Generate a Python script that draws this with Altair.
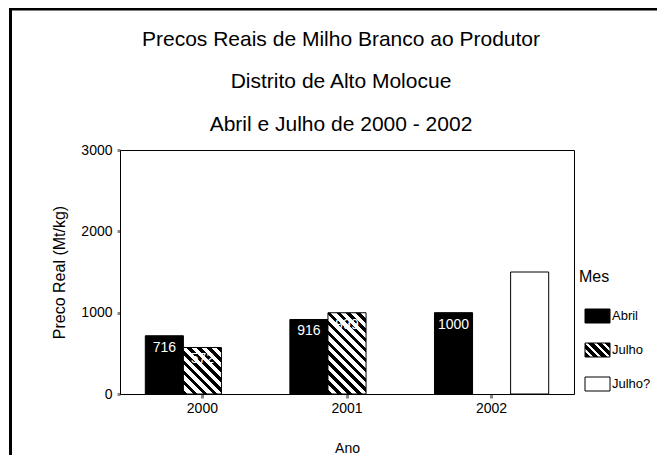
import math
import altair as alt
import pandas as pd

# ---- data ----
anos = ["2000", "2001", "2002"]
meses = ["Abril", "Julho", "Julho?"]
abril = [716, 916, 1000]
julho = [572, 999, None]
julho_q = [None, None, 1500]

titulo = ["Precos Reais de Milho Branco ao Produtor",
          "Distrito de Alto Molocue",
          "Abril e Julho de 2000 - 2002"]

rows = []
for i, ano in enumerate(anos):
    for mes, serie in zip(meses, [abril, julho, julho_q]):
        v = serie[i]
        if v is not None:
            rows.append({"Ano": ano, "Mes": mes, "Valor": v})
df = pd.DataFrame(rows)

# ---- layout ----
W, H = 454, 244
YMAX = 3000
P_IN, P_OUT = 0.21, 0.175
step = W / (len(anos) - P_IN + 2 * P_OUT)
sub_w = step * (1 - P_IN) / len(meses)


def hatch(w, h, period=7.0, black_frac=0.45):
    t = (w + h) / (w * w + h * h)
    x2 = t * w
    y2 = 1 - t * h
    L = (w + h) / math.sqrt(2)
    n = L / period
    stops = []
    k = 0
    while k < n:
        a = k / n
        b = min((k + black_frac) / n, 1)
        c = min((k + 1) / n, 1)
        stops += [{"offset": a, "color": "black"}, {"offset": b, "color": "black"},
                  {"offset": b, "color": "white"}, {"offset": c, "color": "white"}]
        k += 1
    return {"gradient": "linear", "x1": 0, "y1": 1, "x2": x2, "y2": y2, "stops": stops}


conds = [{"test": "datum.Mes === 'Abril'", "value": "black"}]
for ano, v in zip(anos, julho):
    if v is not None:
        conds.append({"test": f"datum.Mes === 'Julho' && datum.Ano === '{ano}'",
                      "value": hatch(sub_w, v * H / YMAX)})

FONT = "Liberation Sans"

x_enc = alt.X("Ano:N", sort=anos,
              scale=alt.Scale(paddingInner=P_IN, paddingOuter=P_OUT),
              axis=alt.Axis(title="Ano", labelAngle=0, tickSize=4, tickWidth=3,
                            labelPadding=3, labelFontSize=14, titleFontSize=14,
                            titleFontWeight="normal", titlePadding=26))
xoff = alt.XOffset("Mes:N", sort=meses,
                   scale=alt.Scale(domain=meses, paddingInner=0, paddingOuter=0))
yscale = alt.Scale(domain=[0, YMAX], nice=False)

bars = alt.Chart(df).mark_bar(stroke="black", strokeWidth=1).encode(
    x=x_enc,
    xOffset=xoff,
    y=alt.Y("Valor:Q", scale=yscale,
            axis=alt.Axis(values=[0, 1000, 2000, 3000], format="d",
                          title="Preco Real (Mt/kg)",
                          grid=False, tickSize=3, tickWidth=3, labelPadding=5,
                          labelFontSize=14, titleFontSize=16,
                          titleFontWeight="normal", titlePadding=13)),
    fill=alt.value("white", condition=conds),
)

labels = alt.Chart(df).mark_text(color="white", baseline="top", dy=5, fontSize=14,
                                 font=FONT).encode(
    x=x_enc, xOffset=xoff,
    y=alt.Y("Valor:Q", scale=yscale, axis=None),
    text=alt.Text("Valor:Q", format="d"),
)

# ---- custom legend ----
leg_df = pd.DataFrame({"Mes": meses})
leg_conds = [{"test": "datum.Mes === 'Abril'", "value": "black"},
             {"test": "datum.Mes === 'Julho'", "value": hatch(25, 14, period=6, black_frac=0.6)}]
leg_y = alt.Y("Mes:N", sort=meses,
              scale=alt.Scale(type="point", domain=meses, range=[166, 234], padding=0),
              axis=None)
leg_sym = alt.Chart(leg_df).mark_point(
    shape="M-1,-0.56L1,-0.56L1,0.56L-1,0.56Z", size=625, filled=True,
    stroke="black", strokeWidth=1, opacity=1).encode(
    x=alt.value(477.5), y=leg_y, fill=alt.value("white", condition=leg_conds))
leg_txt = alt.Chart(leg_df).mark_text(align="left", baseline="middle", fontSize=13,
                                      font=FONT).encode(
    x=alt.value(492), y=leg_y, text="Mes:N")
leg_title = alt.Chart(pd.DataFrame({"t": ["Mes"]})).mark_text(
    align="left", baseline="middle", fontSize=16, font=FONT).encode(
    x=alt.value(459), y=alt.value(127), text="t:N")

# ---- title lines ----
title_layers = []
for line, yy in zip(titulo, [-110, -68, -25]):
    title_layers.append(
        alt.Chart(pd.DataFrame({"t": [line]})).mark_text(
            align="center", baseline="middle", fontSize=21, font=FONT,
            color="black").encode(x=alt.value(221), y=alt.value(yy), text="t:N"))

# outer frame (right/bottom sides fall outside the picture, as in the reference)
frame = alt.Chart(pd.DataFrame({"f": [0]})).mark_rect(
    fillOpacity=0, stroke="black", strokeWidth=3).encode(
    x=alt.value(-109.5), x2=alt.value(700), y=alt.value(-141), y2=alt.value(500))

# crisp plot-area box
box = alt.Chart(pd.DataFrame({"f": [0]})).mark_rect(
    fillOpacity=0, stroke="black", strokeWidth=1).encode(
    x=alt.value(0.5), x2=alt.value(W + 0.5), y=alt.value(0.5), y2=alt.value(H + 0.5))

chart = alt.layer(frame, box, bars, labels, leg_sym, leg_txt, leg_title,
                  *title_layers).resolve_scale(
    y="independent"
).properties(
    width=W, height=H,
    autosize=alt.AutoSizeParams(type="none"),
    padding={"left": 112, "top": 142, "right": 83, "bottom": 61},
).configure_view(strokeWidth=0).configure_axis(
    domainColor="black", tickColor="black", labelColor="black", titleColor="black",
    labelFont=FONT, titleFont=FONT, titleFontWeight="normal"
).configure(background="white")

chart.save("out.html", embed_options={"renderer": "svg", "actions": False})
